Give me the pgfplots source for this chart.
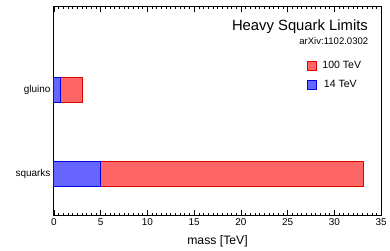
\documentclass[border=0pt]{standalone}
\usepackage{fontspec}
\setmainfont{Liberation Sans}
\usepackage{pgfplots}
\pgfplotsset{compat=1.18}
\definecolor{redfill}{HTML}{FF6666}
\definecolor{rededge}{HTML}{E00000}
\definecolor{bluefill}{HTML}{6666FF}
\definecolor{blueedge}{HTML}{0000E0}

\begin{document}
\begin{tikzpicture}
  \begin{axis}[
      name=ax,
      scale only axis,
      width=328bp, height=210bp,
      xmin=0, xmax=35,
      ymin=-0.5, ymax=2,
      xtick={0,5,...,35},
      minor x tick num=9,
      ytick={0,1},
      yticklabels={squarks, gluino},
      ytick style={draw=none},
      xtick pos=both,
      tick align=inside,
      major tick length=6bp,
      minor tick length=3bp,
      axis line style={line width=0.8pt},
      every tick/.style={black, line width=0.6pt},
      tick label style={font=\fontsize{10}{12}\selectfont},
      /pgf/number format/assume math mode=true,
      xlabel={mass [TeV]},
      xlabel style={font=\fontsize{12.3}{14}\selectfont, yshift=-3bp},
      legend style={
        draw=none, fill=none,
        at={(rel axis cs:0.773,0.745)}, anchor=north west,
        inner sep=0pt,
        row sep=6bp,
        font=\fontsize{10.6}{12}\selectfont,
        nodes={inner xsep=5.5bp},
        cells={anchor=west}
      },
      legend image code/.code={
        \draw[#1, line width=0.9pt] (0bp,-4.5bp) rectangle (9bp,4.5bp);
      },
    ]
    % 100 TeV reach (drawn first, full length)
    \addplot[xbar, bar width=25bp, bar shift=0pt, fill=redfill, draw=rededge, line width=0.9pt]
      coordinates {(33.1,0) (3.05,1)};
    % 14 TeV reach on top
    \addplot[xbar, bar width=25bp, bar shift=0pt, fill=bluefill, draw=blueedge, line width=0.9pt]
      coordinates {(5.0,0) (0.65,1)};
    \legend{100 TeV, \hspace{1.5bp}14 TeV}

    \node[anchor=base east, font=\fontsize{14.9}{16}\selectfont, inner sep=0pt]
      at (rel axis cs:0.960,0.881) {Heavy Squark Limits};
    \node[anchor=base east, font=\fontsize{9.6}{11}\selectfont, inner sep=0pt]
      at (rel axis cs:0.961,0.818) {arXiv:1102.0302};
  \end{axis}
  \path[use as bounding box] ([shift={(-54bp,-35bp)}]ax.south west)
    rectangle ([shift={(8bp,6bp)}]ax.north east);
\end{tikzpicture}
\end{document}
